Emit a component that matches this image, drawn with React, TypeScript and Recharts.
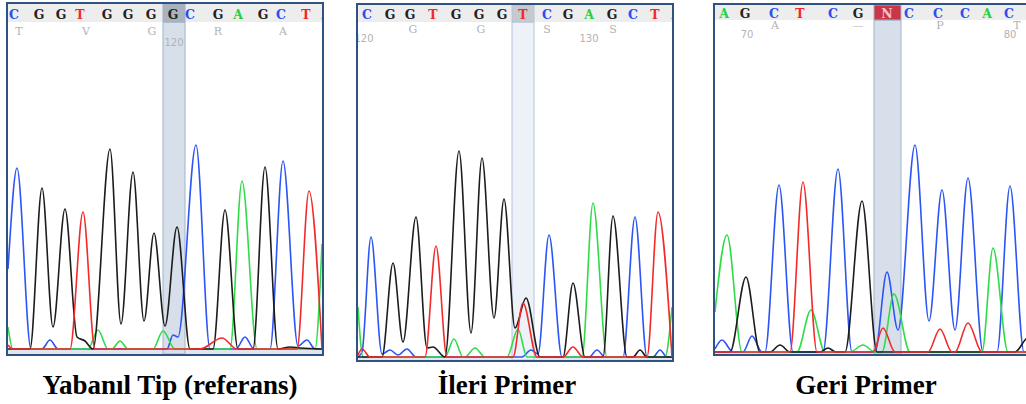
import React from 'react';
import { ComposedChart, Line, Scatter, XAxis, YAxis, ReferenceArea } from 'recharts';

type P = [number, number];

// ---------- Panel 1: Yabanıl Tip (referans) ----------
const wtBlue: P[] = [[-1,80],[0,96],[8,181],[22,0],[33,0],[41,9],[49,0],[158,0],[164,14],[169,12],[187,204],[201,0],[227,0],[236,12],[245,0],[261,0],[274,188],[289,3],[298,9],[306,0],[313,0]];
const wtBlack: P[] = [[-1,0],[21,0],[33,161],[44,22],[56,140],[68,12],[76,8],[84,0],[101,200],[112,25],[124,177],[135,28],[145,116],[156,23],[168,122],[181,0],[204,0],[216,139],[229,0],[244,0],[256,182],[269,0],[281,2],[291,1],[313,0]];
const wtRed: P[] = [[-1,4],[4,0],[61,0],[74,137],[86,0],[191,0],[213,11],[228,0],[288,0],[300,158],[313,0]];
const wtGreen: P[] = [[-1,22],[4,0],[79,0],[89,19],[99,0],[103,0],[111,8],[119,0],[144,0],[154,18],[166,0],[221,0],[233,168],[248,0],[306,0],[313,105]];
const wtBases = ['C','G','G','T','G','G','G','G','C','G','A','G','C','T','A'];
const wtBasePos = [5,30,52,71,98,119,142,164,181,209,229,254,272,297,317];
const wtAmino = ['T','V','G','R','A'];
const wtAminoPos = [10,77,143,209,274];
const wtNums = ['120'];
const wtNumPos = [165];

// ---------- Panel 2: İleri Primer ----------
const fwBlue: P[] = [[0,0],[4,5],[13,120],[24,3],[32,7],[40,2],[49,8],[58,0],[164,0],[173,7],[180,3],[191,122],[204,0],[231,0],[239,7],[247,0],[265,0],[277,140],[289,0],[295,0],[302,7],[309,0],[314,0]];
const fwBlack: P[] = [[0,0],[24,0],[35,94],[45,15],[58,140],[69,9],[75,10],[87,0],[101,206],[113,24],[124,199],[136,39],[146,158],[157,29],[168,59],[182,0],[205,0],[215,74],[227,0],[245,0],[255,141],[269,0],[275,0],[282,7],[289,0],[314,0]];
const fwRed: P[] = [[0,2],[4,8],[12,0],[67,0],[78,111],[89,0],[155,0],[165,54],[179,0],[205,0],[215,10],[225,0],[289,0],[300,145],[314,0]];
const fwGreen: P[] = [[0,50],[5,0],[87,0],[96,18],[105,0],[107,0],[117,9],[127,0],[149,0],[160,28],[169,0],[224,0],[235,154],[249,0],[307,0],[314,50]];
const fwBases = ['C','G','G','T','G','G','G','T','C','G','A','G','C','T','A'];
const fwBasePos = [9,32,52,75,98,121,144,165,189,210,231,254,275,297,318];
const fwAmino = ['G','G','S','S'];
const fwAminoPos = [55,123,189,255];
const fwNums = ['120','130'];
const fwNumPos = [6,231];

// ---------- Panel 3: Geri Primer ----------
const rvBlue: P[] = [[-1,3],[6,12],[17,0],[27,0],[36,16],[46,0],[49,0],[63,167],[77,0],[107,0],[122,183],[136,0],[159,0],[171,80],[182,22],[199,207],[213,31],[226,162],[239,22],[252,174],[267,0],[281,0],[294,166],[308,0],[318,0]];
const rvBlack: P[] = [[-1,0],[14,0],[30,75],[44,0],[54,0],[64,7],[74,0],[104,0],[112,4],[120,0],[129,0],[146,151],[161,0],[299,0],[309,12],[318,22]];
const rvRed: P[] = [[-1,0],[74,0],[87,170],[101,0],[157,0],[167,24],[179,0],[212,0],[224,23],[236,0],[239,0],[252,29],[266,0],[318,0]];
const rvGreen: P[] = [[-1,40],[11,117],[26,0],[81,0],[95,42],[109,0],[134,0],[147,7],[159,0],[166,0],[178,58],[194,0],[266,0],[277,104],[292,0],[318,0]];
const rvBases = ['A','G','C','T','C','G','N','C','C','C','A','C'];
const rvBasePos = [8,29,58,84,117,142,171,193,222,249,271,293];
const rvAmino = ['A','—','P','T'];
const rvAminoPos = [59,142,224,301];
const rvNums = ['70','80'];
const rvNumPos = [31,294];

const panelTitles = ['Yabanıl Tip (referans)', 'İleri Primer', 'Geri Primer'];
const titleCenters = [170, 507, 866];

const BASE_COLORS: Record<string, string> = { A: '#1fd43a', C: '#2a4ff0', G: '#222222', T: '#f02828', N: '#f3c4c8' };

const panels = [
  {
    left: 6, top: 2, w: 318, h: 354, xDomain: [-1, 313], yDomain: [-5, 345], header: [327, 345], seqY: 335, aminoY: 318, numY: 307,
    hl: [154, 176], colFill: '#d7dfea', colStroke: '#9fb2cc', cellFill: '#aab2bc',
    blue: wtBlue, black: wtBlack, red: wtRed, green: wtGreen,
    bases: wtBases, basePos: wtBasePos, amino: wtAmino, aminoPos: wtAminoPos, nums: wtNums, numPos: wtNumPos,
  },
  {
    left: 356, top: 3, w: 318, h: 359, xDomain: [0, 314], yDomain: [-3, 352], header: [335, 352], seqY: 343, aminoY: 328, numY: 319,
    hl: [154, 176], colFill: '#edf1f8', colStroke: '#b4c4dc', cellFill: '#c6c9ce',
    blue: fwBlue, black: fwBlack, red: fwRed, green: fwGreen,
    bases: fwBases, basePos: fwBasePos, amino: fwAmino, aminoPos: fwAminoPos, nums: fwNums, numPos: fwNumPos,
  },
  {
    left: 713, top: 3, w: 323, h: 353, xDomain: [-1, 318], yDomain: [-2, 347], header: [332, 347], seqY: 339, aminoY: 327, numY: 318,
    hl: [158, 185], colFill: '#d7dfea', colStroke: '#9fb2cc', cellFill: '#cc3546',
    blue: rvBlue, black: rvBlack, red: rvRed, green: rvGreen,
    bases: rvBases, basePos: rvBasePos, amino: rvAmino, aminoPos: rvAminoPos, nums: rvNums, numPos: rvNumPos,
  },
];

const toPts = (a: P[]) => a.map(([x, y]) => ({ x, y }));

const renderBase = (props: any) => {
  const { cx, cy, payload } = props;
  return (
    <text x={cx} y={cy} textAnchor="middle" dominantBaseline="central" fontFamily="DejaVu Serif" fontWeight="bold" fontSize={12.5} fill={BASE_COLORS[payload.t] || '#222'}>
      {payload.t}
    </text>
  );
};

const renderAmino = (props: any) => {
  const { cx, cy, payload } = props;
  return (
    <text x={cx} y={cy} textAnchor="middle" dominantBaseline="central" fontFamily="DejaVu Serif" fontSize={11} fill="#b2b2b2">
      {payload.t}
    </text>
  );
};

const renderNum = (props: any) => {
  const { cx, cy, payload } = props;
  return (
    <text x={cx} y={cy} textAnchor="middle" dominantBaseline="central" fontFamily="DejaVu Sans" fontSize={10} fill="#b3b3b3">
      {payload.t}
    </text>
  );
};

function Panel({ cfg }: { cfg: any }) {
  const seq = cfg.bases.map((t: string, i: number) => ({ x: cfg.basePos[i], y: cfg.seqY, t }));
  const amino = cfg.amino.map((t: string, i: number) => ({ x: cfg.aminoPos[i], y: cfg.aminoY, t }));
  const nums = cfg.nums.map((t: string, i: number) => ({ x: cfg.numPos[i], y: cfg.numY, t }));
  const lw = 1.6;
  return (
    <div style={{ position: 'absolute', left: cfg.left, top: cfg.top, width: cfg.w, height: cfg.h, border: '2px solid #2f5282', boxSizing: 'border-box', overflow: 'hidden', background: '#fff' }}>
      <ComposedChart width={cfg.w - 4} height={cfg.h - 4} margin={{ top: 0, right: 0, bottom: 0, left: 0 }}>
        <XAxis type="number" dataKey="x" domain={cfg.xDomain} hide allowDataOverflow />
        <YAxis type="number" dataKey="y" domain={cfg.yDomain} hide allowDataOverflow />
        <ReferenceArea x1={cfg.xDomain[0]} x2={cfg.xDomain[1]} y1={cfg.header[0]} y2={cfg.header[1]} fill="#ededed" fillOpacity={1} stroke="none" />
        <ReferenceArea x1={cfg.xDomain[0]} x2={cfg.xDomain[1]} y1={cfg.yDomain[0]} y2={0} fill="#e2e6ec" fillOpacity={1} stroke="none" />
        <ReferenceArea x1={cfg.hl[0]} x2={cfg.hl[1]} y1={cfg.yDomain[0]} y2={cfg.header[0]} fill={cfg.colFill} fillOpacity={1} stroke={cfg.colStroke} strokeWidth={1} />
        <ReferenceArea x1={cfg.hl[0]} x2={cfg.hl[1]} y1={cfg.header[0]} y2={cfg.header[1]} fill={cfg.cellFill} fillOpacity={1} stroke={cfg.colStroke} strokeWidth={1} />
        <Line data={toPts(cfg.blue)} dataKey="y" type="monotone" stroke="#2b55f5" strokeWidth={lw} dot={false} isAnimationActive={false} />
        <Line data={toPts(cfg.green)} dataKey="y" type="monotone" stroke="#2fdc48" strokeWidth={lw} dot={false} isAnimationActive={false} />
        <Line data={toPts(cfg.black)} dataKey="y" type="monotone" stroke="#1c1c1c" strokeWidth={lw} dot={false} isAnimationActive={false} />
        <Line data={toPts(cfg.red)} dataKey="y" type="monotone" stroke="#f42a2a" strokeWidth={lw} dot={false} isAnimationActive={false} />
        <Scatter data={seq} isAnimationActive={false} shape={renderBase} />
        <Scatter data={amino} isAnimationActive={false} shape={renderAmino} />
        <Scatter data={nums} isAnimationActive={false} shape={renderNum} />
      </ComposedChart>
    </div>
  );
}

export default function App() {
  return (
    <div style={{ position: 'absolute', left: 0, top: 0, width: 1026, height: 404, background: '#fff', overflow: 'hidden' }}>
      {panels.map((p, i) => (
        <Panel key={i} cfg={p} />
      ))}
      <svg width={1026} height={404} style={{ position: 'absolute', left: 0, top: 0, pointerEvents: 'none' }}>
        {panelTitles.map((t, i) => (
          <text key={i} x={titleCenters[i]} y={394} textAnchor="middle" fontFamily="Liberation Serif" fontWeight="bold" fontSize={27} fill="#000">
            {t}
          </text>
        ))}
      </svg>
    </div>
  );
}
